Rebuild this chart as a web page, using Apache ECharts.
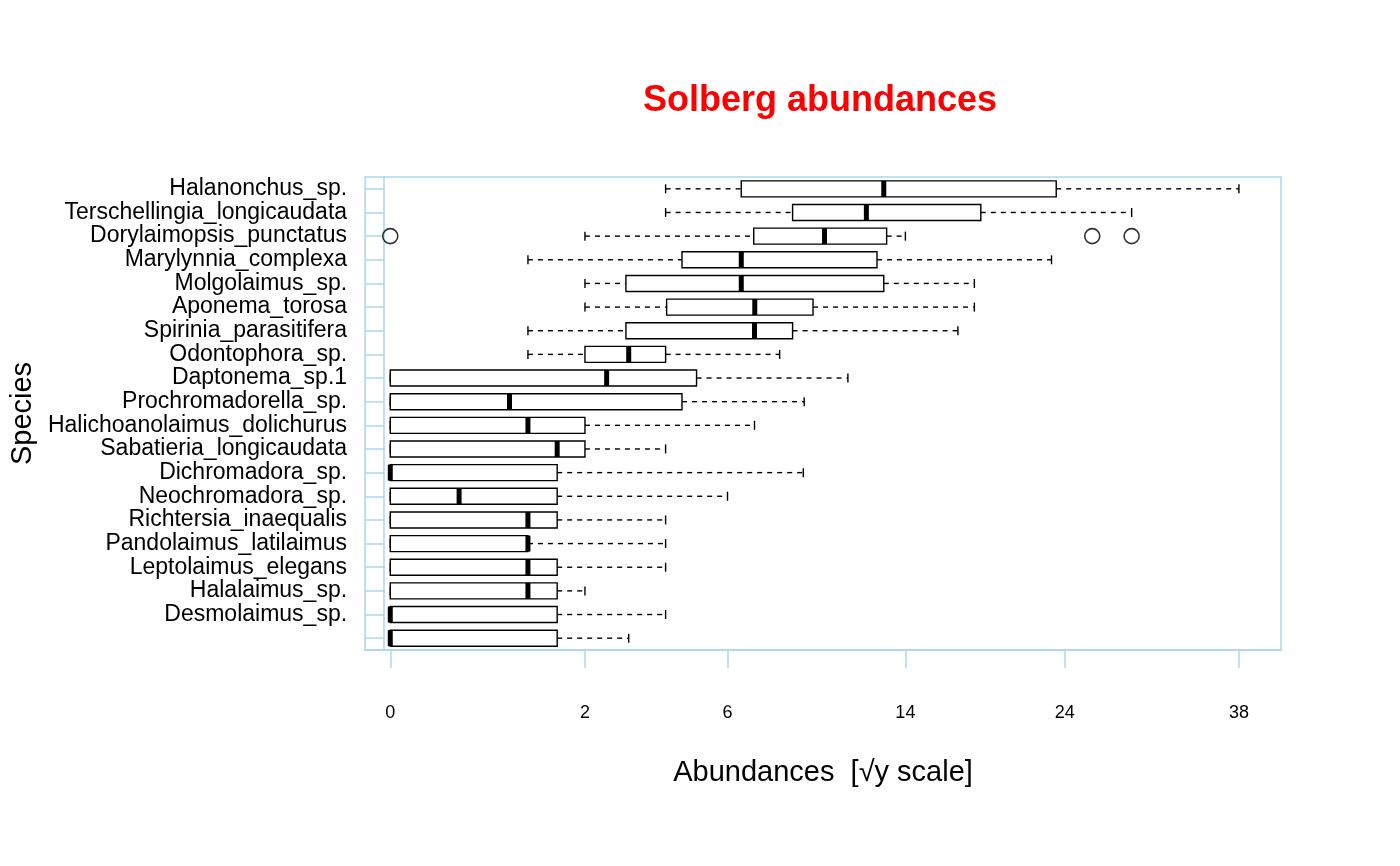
<!DOCTYPE html>
<html>
<head>
<meta charset="utf-8">
<script src="https://cdn.jsdelivr.net/npm/echarts@6/dist/echarts.min.js"></script>
<style>
  html, body { margin: 0; padding: 0; background: #fff; }
  #chart { width: 1400px; height: 866px; }
</style>
</head>
<body>
<div id="chart"></div>
<script>
// 物种名（自上而下），最后一行在原图里没有显示标签
const species = [
    'Halanonchus_sp.', 'Terschellingia_longicaudata', 'Dorylaimopsis_punctatus',
    'Marylynnia_complexa', 'Molgolaimus_sp.', 'Aponema_torosa', 'Spirinia_parasitifera',
    'Odontophora_sp.', 'Daptonema_sp.1', 'Prochromadorella_sp.', 'Halichoanolaimus_dolichurus',
    'Sabatieria_longicaudata', 'Dichromadora_sp.', 'Neochromadora_sp.', 'Richtersia_inaequalis',
    'Pandolaimus_latilaimus', 'Leptolaimus_elegans', 'Halalaimus_sp.', 'Desmolaimus_sp.', ''
];
// [下须, Q1, 中位数, Q3, 上须]（原始丰度）
const boxStats = [
    [4, 6.5, 12.85, 23.4, 38],
    [4, 8.54, 11.96, 18.4, 29],
    [2, 6.97, 9.95, 13, 14],
    [1, 4.49, 6.5, 12.5, 23.07],
    [2, 2.93, 6.5, 12.85, 18],
    [2, 4.03, 7.01, 9.43, 18],
    [1, 2.93, 7, 8.54, 17],
    [1, 2, 3, 4, 8],
    [0, 0, 2.47, 4.95, 11.05],
    [0, 0, 0.75, 4.49, 9.04],
    [0, 0, 1, 2, 7],
    [0, 0, 1.47, 2, 4],
    [0, 0, 0, 1.47, 9],
    [0, 0, 0.25, 1.47, 6],
    [0, 0, 1, 1.47, 4],
    [0, 0, 1, 1, 4],
    [0, 0, 1, 1.47, 4],
    [0, 0, 1, 1.47, 2],
    [0, 0, 0, 1.47, 4],
    [0, 0, 0, 1.47, 3]
];
// 离群点 [物种序号, 丰度]
const outliers = [[2, 0], [2, 26], [2, 29]];
const tickValues = [0, 2, 6, 14, 24, 38];

const sq = v => Math.sqrt(v);
const boxData = boxStats.map((s, i) => [i].concat(s.map(sq)));
const outlierData = outliers.map(o => [sq(o[1]), o[0]]);

const chart = echarts.init(document.getElementById('chart'));
const frame = '#add8e6';
const font = 'Liberation Sans';

function renderBox(params, api) {
    const cat = api.value(0);
    const p = [1, 2, 3, 4, 5].map(k => api.coord([api.value(k), cat]));
    const y = p[0][1];
    const h = 16;
    const cap = 9;
    const dashed = { stroke: '#000', lineWidth: 1.4, lineDash: [5, 5] };
    const solid = { stroke: '#000', lineWidth: 1.4 };
    return {
        type: 'group',
        children: [
            { type: 'line', shape: { x1: p[0][0], y1: y, x2: p[1][0], y2: y }, style: dashed },
            { type: 'line', shape: { x1: p[3][0], y1: y, x2: p[4][0], y2: y }, style: dashed },
            { type: 'line', shape: { x1: p[0][0], y1: y - cap / 2, x2: p[0][0], y2: y + cap / 2 }, style: solid },
            { type: 'line', shape: { x1: p[4][0], y1: y - cap / 2, x2: p[4][0], y2: y + cap / 2 }, style: solid },
            { type: 'rect', shape: { x: p[1][0], y: y - h / 2, width: p[3][0] - p[1][0], height: h },
              style: { fill: '#fff', stroke: '#000', lineWidth: 1.4 } },
            { type: 'line', shape: { x1: p[2][0], y1: y - h / 2, x2: p[2][0], y2: y + h / 2 },
              style: { stroke: '#000', lineWidth: 5 } }
        ]
    };
}

chart.setOption({
    animation: false,
    title: {
        text: 'Solberg abundances', left: 815, top: 78, textAlign: 'center',
        textStyle: { color: '#ff0000', fontSize: 36, fontWeight: 'bold', fontFamily: font }
    },
    grid: { left: 336, right: 119, top: 177, bottom: 216, show: true, borderColor: frame, borderWidth: 1.5 },
    xAxis: {
        type: 'value', min: -0.183, max: 6.47,
        name: 'Abundances  [√y scale]', nameLocation: 'middle', nameGap: 108,
        nameTextStyle: { fontSize: 29, color: '#000', fontFamily: font },
        axisLine: { show: true, lineStyle: { color: frame, width: 1.5 } },
        axisTick: { show: true, length: 18, lineStyle: { color: frame, width: 1.5 }, customValues: tickValues.map(sq) },
        axisLabel: {
            margin: 54, fontSize: 18, color: '#000', fontFamily: font,
            customValues: tickValues.map(sq),
            formatter: v => String(Math.round(v * v))
        },
        splitLine: { show: false }
    },
    yAxis: {
        type: 'category', data: species, inverse: true, offset: -19,
        name: 'Species', nameLocation: 'middle', nameGap: 240, nameRotate: 90,
        nameTextStyle: { fontSize: 29, color: '#000', fontFamily: font },
        axisLine: { show: true, onZero: false, lineStyle: { color: frame, width: 1.5 } },
        axisTick: { show: true, length: 19, alignWithLabel: true, lineStyle: { color: frame, width: 1.5 } },
        axisLabel: { margin: 37, fontSize: 23, color: '#000', fontFamily: font, interval: 0 },
        splitLine: { show: false }
    },
    series: [
        {
            type: 'custom', renderItem: renderBox, data: boxData,
            encode: { x: [1, 2, 3, 4, 5], y: 0 }
        },
        {
            type: 'scatter', data: outlierData, symbol: 'circle', symbolSize: 15,
            itemStyle: { color: 'transparent', borderColor: '#000', borderWidth: 1.6 }
        }
    ]
});
</script>
</body>
</html>
